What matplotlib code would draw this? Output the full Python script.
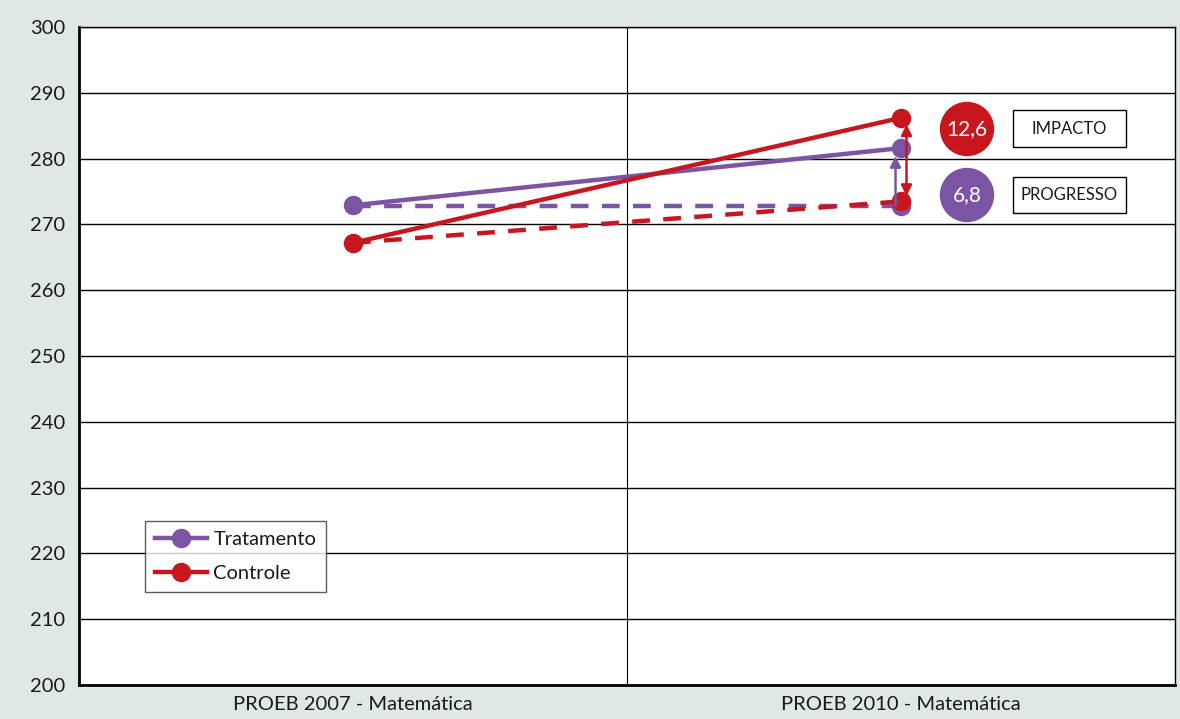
import matplotlib
matplotlib.use("Agg")
import matplotlib.pyplot as plt
from matplotlib.patches import Ellipse, Rectangle

categories = ["PROEB 2007 - Matemática", "PROEB 2010 - Matemática"]
tratamento = [272.9, 281.6]
controle = [267.2, 286.2]
tratamento_contra = [272.8, 272.8]
controle_contra = [267.2, 273.5]
impacto_val = "12,6"
progresso_val = "6,8"
yticks = list(range(200, 301, 10))

PURPLE = "#7b55a4"
RED = "#c8161e"
BG = "#dfe8e6"
TXT = "#1a1a1a"

plt.rcParams['font.family'] = ['Lato', 'DejaVu Sans']

fig = plt.figure(figsize=(11.8, 7.19), dpi=100, facecolor=BG)
ax = fig.add_axes([79/1180, 1-685/719, (1175-79)/1180, (685-27)/719])
ax.set_facecolor("white")

xs = [0.5, 1.5]
ax.set_xlim(0, 2)
ax.set_ylim(200, 300)
ax.set_yticks(yticks)
ax.set_yticklabels([str(t) for t in yticks], fontsize=14.5, color=TXT)
ax.set_xticks(xs)
ax.set_xticklabels(categories, fontsize=14.5, color=TXT)
ax.tick_params(length=0, pad=10)
ax.tick_params(axis='x', pad=8)
for t in yticks:
    ax.axhline(t, color="black", lw=1.0, zorder=1)
ax.axvline(1, color="black", lw=0.8, zorder=1)
for s in ["top", "right"]:
    ax.spines[s].set_linewidth(1.0)
for s in ["left", "bottom"]:
    ax.spines[s].set_linewidth(2.0)

ax.plot(xs, tratamento_contra, color=PURPLE, lw=3.2, ls=(0, (4, 3)), zorder=3)
ax.plot(xs, controle_contra, color=RED, lw=3.2, ls=(0, (4, 3)), zorder=3)
ax.plot(xs, tratamento, color=PURPLE, lw=3.2, marker="o", ms=13, zorder=4, label="Tratamento")
ax.plot(xs, controle, color=RED, lw=3.2, marker="o", ms=13, zorder=4, label="Controle")
ax.plot([xs[1]], [tratamento_contra[1]], "o", color=PURPLE, ms=13, zorder=3.5)
ax.plot([xs[1]], [controle_contra[1]], "o", color=RED, ms=13, zorder=4.5)

# arrows
ax.annotate("", xy=(1.49, tratamento[1] - 1.2), xytext=(1.49, tratamento_contra[1]),
            arrowprops=dict(arrowstyle="-|>", color=PURPLE, lw=1.8, mutation_scale=16,
                            shrinkA=0, shrinkB=0), zorder=5)
ax.annotate("", xy=(1.51, controle[1] - 1.0), xytext=(1.51, controle_contra[1] + 0.8),
            arrowprops=dict(arrowstyle="<|-|>", color=RED, lw=1.8, mutation_scale=16,
                            shrinkA=0, shrinkB=0), zorder=5)

# badges
def badge(xc_px, yc_px, color, txt):
    fx, fy = xc_px/1180, 1 - yc_px/719
    e = Ellipse((fx, fy), 53/1180, 53/719, transform=fig.transFigure, color=color, zorder=10)
    fig.patches.append(e)
    fig.text(fx, fy, txt, color="white", fontsize=15, ha="center", va="center", zorder=11)

badge(967, 129, RED, impacto_val)
badge(967, 195, PURPLE, progresso_val)

def box(x0, y0, x1, y1, txt):
    r = Rectangle((x0/1180, 1 - y1/719), (x1-x0)/1180, (y1-y0)/719, transform=fig.transFigure,
                  fc="white", ec="black", lw=1.0, zorder=10)
    fig.patches.append(r)
    fig.text((x0+x1)/2/1180, 1 - (y0+y1)/2/719, txt, fontsize=12, ha="center", va="center",
             color=TXT, zorder=11)

box(1013, 110, 1126, 147, "IMPACTO")
box(1013, 177, 1126, 213, "PROGRESSO")

leg = ax.legend(loc="lower left", bbox_to_anchor=((145-79)/1096, (685-592)/658),
                fontsize=14.5, frameon=True, fancybox=False, edgecolor="#333333",
                handlelength=2.6, borderpad=0.5, labelspacing=0.85, handletextpad=0.3,
                borderaxespad=0)
for t in leg.get_texts():
    t.set_color(TXT)
leg.get_frame().set_linewidth(1.0)
leg.set_zorder(20)

fig.savefig("out.png", dpi=100, facecolor=BG)
